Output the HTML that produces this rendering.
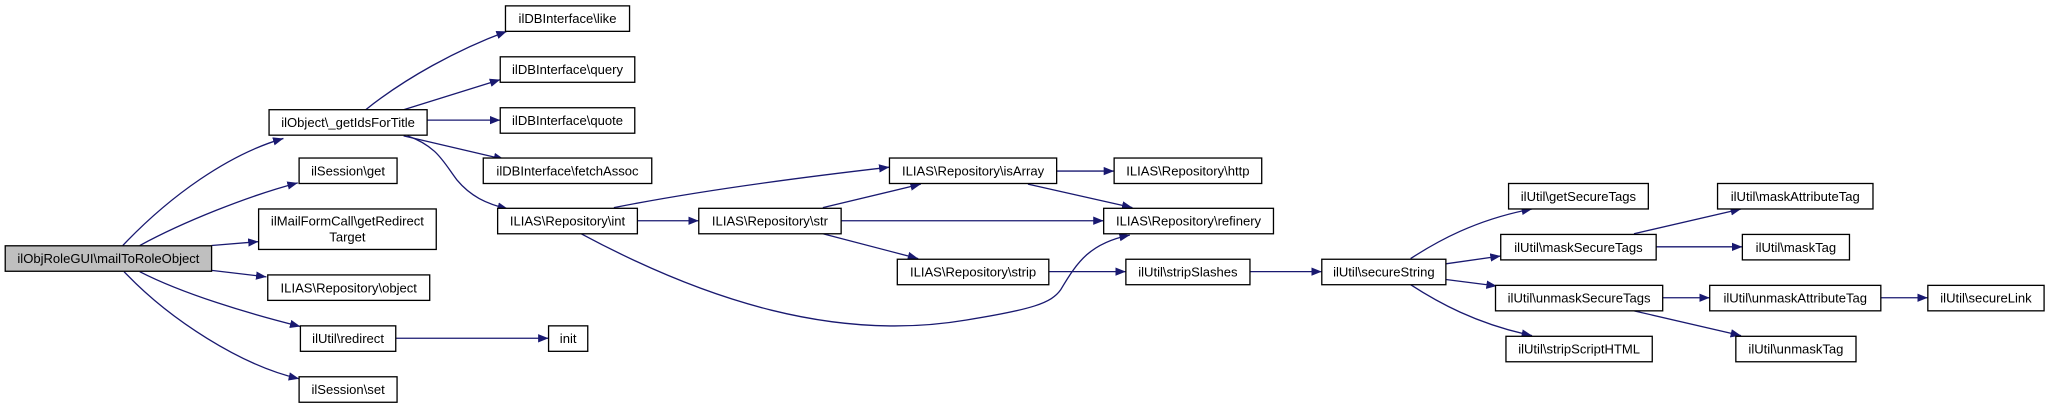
<!DOCTYPE html>
<html><head><meta charset="utf-8"><style>
html,body{margin:0;padding:0;background:#fff;}
svg{display:block;}
text{font-family:"Liberation Sans",sans-serif;font-size:10px;fill:#000;}
</style></head><body>
<svg width="2048" height="408" viewBox="0 0 1568 312.4" preserveAspectRatio="none" xmlns="http://www.w3.org/2000/svg">
<defs><marker id="a" markerUnits="userSpaceOnUse" markerWidth="9" markerHeight="7" refX="8" refY="3.2" orient="auto"><path d="M0,0 L8,3.2 L0,6.4 z" fill="#191970"/></marker></defs>
<g fill="none" stroke="#191970" stroke-width="1" marker-end="url(#a)">
<path d="M94,188 C130,150 175,118 217,106"/>
<path d="M107,188 C140,170 190,150 228,140"/>
<path d="M162,188 L198,185"/>
<path d="M162,207 L204,212"/>
<path d="M107,208 C140,225 190,240 230,250"/>
<path d="M95,208 C130,245 185,280 229,290"/>
<path d="M280,84 C310,60 350,38 388,24"/>
<path d="M309,84 L383,61"/>
<path d="M327,92 L383,92"/>
<path d="M309,104 L386,122"/>
<path d="M312,104 C335,112 340,125 350,138 C360,150 372,156 389,160"/>
<path d="M303,259 L420,259"/>
<path d="M470,159 C540,145 620,135 681,128"/>
<path d="M488,169 L535,169"/>
<path d="M445,179 C540,230 640,262 740,245 C790,237 805,232 812,222 C825,200 835,186 865,180"/>
<path d="M630,159 L705,141"/>
<path d="M644,169 L845,169"/>
<path d="M630,179 L703,198"/>
<path d="M809,131 L853,131"/>
<path d="M787,141 L867,159"/>
<path d="M803,208 L862,208"/>
<path d="M957,208 L1012,208"/>
<path d="M1080,198 C1100,185 1130,168 1173,160"/>
<path d="M1107,202 L1149,196"/>
<path d="M1107,214 L1146,219"/>
<path d="M1080,218 C1100,231 1130,248 1173,257"/>
<path d="M1251,179 L1333,160"/>
<path d="M1268,189 L1334,189"/>
<path d="M1273,228 L1309,228"/>
<path d="M1251,238 L1333,257"/>
<path d="M1440,228 L1476,228"/>
</g>
<g stroke="#000" stroke-width="1" fill="#fff">
<rect x="4" y="188.2" width="158" height="19.5" fill="#bfbfbf"/>
<rect x="206" y="84" width="121" height="19.5"/>
<rect x="229" y="121" width="75" height="19.5"/>
<rect x="198" y="160" width="136" height="31"/>
<rect x="205" y="210.5" width="124" height="19.5"/>
<rect x="230" y="249.5" width="73" height="19.5"/>
<rect x="229" y="288.5" width="75" height="19.5"/>
<rect x="387" y="4.5" width="95" height="19.5"/>
<rect x="383" y="43.5" width="103" height="19.5"/>
<rect x="383" y="82.5" width="103" height="19.5"/>
<rect x="370" y="121" width="129" height="19.5"/>
<rect x="381" y="159.5" width="107" height="19.5"/>
<rect x="420" y="249.5" width="30" height="19.5"/>
<rect x="681" y="121" width="128" height="19.5"/>
<rect x="853" y="121" width="113" height="19.5"/>
<rect x="535" y="159.5" width="109" height="19.5"/>
<rect x="845" y="159.5" width="130" height="19.5"/>
<rect x="687" y="198.5" width="116" height="19.5"/>
<rect x="862" y="198.5" width="95" height="19.5"/>
<rect x="1012" y="198.5" width="95" height="19.5"/>
<rect x="1155" y="140.5" width="107" height="19.5"/>
<rect x="1149" y="179.5" width="119" height="19.5"/>
<rect x="1145" y="218.5" width="128" height="19.5"/>
<rect x="1153" y="257.5" width="112" height="19.5"/>
<rect x="1315" y="140.5" width="119" height="19.5"/>
<rect x="1334" y="179.5" width="82" height="19.5"/>
<rect x="1309" y="218.5" width="131" height="19.5"/>
<rect x="1329" y="257.5" width="92" height="19.5"/>
<rect x="1476" y="218.5" width="89" height="19.5"/>
</g>
<g text-anchor="middle">
<text x="83" y="201.5">ilObjRoleGUI\mailToRoleObject</text>
<text x="266.5" y="97.3">ilObject\_getIdsForTitle</text>
<text x="266.5" y="134.3">ilSession\get</text>
<text x="266" y="172.5">ilMailFormCall\getRedirect</text>
<text x="266" y="185">Target</text>
<text x="267" y="223.8">ILIAS\Repository\object</text>
<text x="266.5" y="262.8">ilUtil\redirect</text>
<text x="266.5" y="301.8">ilSession\set</text>
<text x="434.5" y="17.8">ilDBInterface\like</text>
<text x="434.5" y="56.8">ilDBInterface\query</text>
<text x="434.5" y="95.8">ilDBInterface\quote</text>
<text x="434.5" y="134.3">ilDBInterface\fetchAssoc</text>
<text x="434.5" y="172.8">ILIAS\Repository\int</text>
<text x="435" y="262.8">init</text>
<text x="745" y="134.3">ILIAS\Repository\isArray</text>
<text x="909.5" y="134.3">ILIAS\Repository\http</text>
<text x="589.5" y="172.8">ILIAS\Repository\str</text>
<text x="910" y="172.8">ILIAS\Repository\refinery</text>
<text x="745" y="211.8">ILIAS\Repository\strip</text>
<text x="909.5" y="211.8">ilUtil\stripSlashes</text>
<text x="1059.5" y="211.8">ilUtil\secureString</text>
<text x="1208.5" y="153.8">ilUtil\getSecureTags</text>
<text x="1208.5" y="192.8">ilUtil\maskSecureTags</text>
<text x="1209" y="231.8">ilUtil\unmaskSecureTags</text>
<text x="1209" y="270.8">ilUtil\stripScriptHTML</text>
<text x="1374.5" y="153.8">ilUtil\maskAttributeTag</text>
<text x="1375" y="192.8">ilUtil\maskTag</text>
<text x="1374.5" y="231.8">ilUtil\unmaskAttributeTag</text>
<text x="1375" y="270.8">ilUtil\unmaskTag</text>
<text x="1520.5" y="231.8">ilUtil\secureLink</text>
</g>
</svg>
</body></html>
